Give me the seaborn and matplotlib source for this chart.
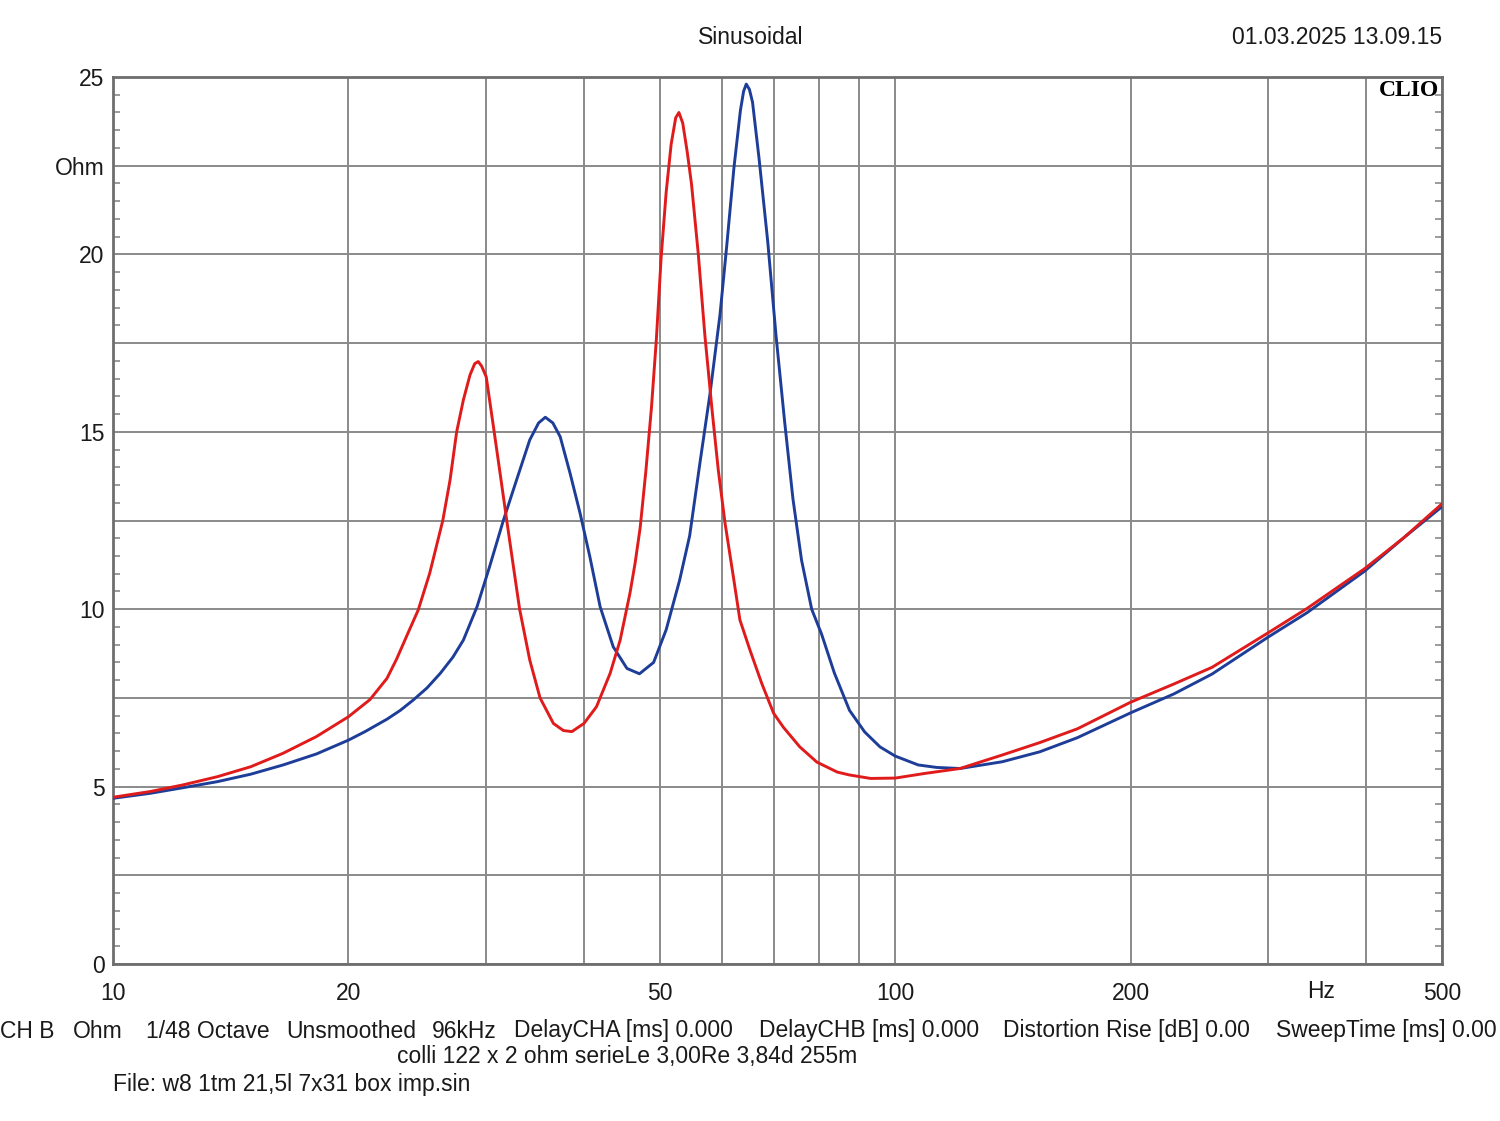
import numpy as np
import pandas as pd
import matplotlib
matplotlib.use("Agg")
import matplotlib.pyplot as plt
import matplotlib.transforms as mtransforms
from matplotlib.ticker import FixedLocator, NullFormatter
import seaborn as sns

# ---- data ----
red_f = [10, 11.15, 12.3, 13.6, 15.0, 16.5, 18.2, 20, 21.3, 22.4, 23.05, 23.8, 24.56, 25.4, 26.4, 26.97,
         27.5, 28.05, 28.6, 29.0, 29.3, 29.6, 30.0, 30.6, 31.25, 31.87, 32.5, 33.1, 34.1, 35.15,
         36.56, 37.65, 38.6, 40.0, 41.5, 43.2, 44.5, 45.8, 46.5, 47.2, 48.0, 48.8, 49.5, 50.2,
         50.95, 51.7, 52.4, 52.9, 53.5, 54.2, 54.9, 56.0, 57.1, 58.3, 59.4, 60.6, 62.2, 63.3,
         65.2, 67.5, 69.9, 71.9, 75.5, 79.4, 84.3, 87.3, 93, 100, 109, 121, 137, 153, 171,
         200, 227, 254, 300, 336, 398, 446, 500]
red_v = [4.70, 4.86, 5.05, 5.28, 5.56, 5.94, 6.41, 6.97, 7.45, 8.05, 8.6, 9.3, 9.98, 11.01, 12.5, 13.64,
         15.0, 15.9, 16.6, 16.92, 16.98, 16.85, 16.55, 15.24, 13.83, 12.5, 11.2, 10.0, 8.57, 7.5,
         6.78, 6.58, 6.55, 6.78, 7.25, 8.19, 9.13, 10.45, 11.3, 12.3, 13.9, 15.7, 17.6, 19.9,
         21.75, 23.1, 23.85, 24.0, 23.7, 22.9, 21.98, 20.02, 17.72, 15.65, 13.92, 12.42, 10.81, 9.7,
         8.85, 7.91, 7.07, 6.68, 6.12, 5.69, 5.41, 5.33, 5.23, 5.24, 5.37, 5.51, 5.89, 6.24, 6.63,
         7.38, 7.89, 8.36, 9.34, 10.02, 11.14, 12.0, 12.97]

blue_f = [10, 11.15, 12.3, 13.6, 15.0, 16.5, 18.2, 20, 21.0, 22.4, 23.3, 24.2, 25.2, 26.2, 27.2,
          28.05, 29.2, 30.3, 31.55, 32.8, 34.1, 35.0, 35.7, 36.5, 37.3, 38.4, 39.55, 40.7, 41.95,
          43.6, 45.4, 47.1, 49.1, 50.95, 53.0, 54.6, 56.3, 58.0, 59.7, 60.9, 62.2, 63.4, 64.0,
          64.5, 65.1, 65.7, 67.0, 68.7, 70.4, 72.2, 74.0, 75.9, 78.2, 80.5, 83.6, 87.4, 91.4,
          95.6, 100, 107, 113, 121, 137, 153, 171, 200, 227, 254, 300, 336, 398, 446, 500]
blue_v = [4.67, 4.81, 4.97, 5.14, 5.35, 5.61, 5.92, 6.31, 6.55, 6.9, 7.15, 7.44, 7.78, 8.19, 8.65,
          9.13, 10.07, 11.2, 12.5, 13.64, 14.77, 15.25, 15.41, 15.25, 14.86, 13.83, 12.7, 11.48, 10.07,
          8.94, 8.33, 8.18, 8.5, 9.42, 10.81, 12.07, 14.15, 16.11, 18.3, 20.25, 22.44, 24.06, 24.6,
          24.8, 24.65, 24.29, 22.67, 20.37, 17.72, 15.3, 13.11, 11.38, 10.0, 9.3, 8.2, 7.15, 6.54,
          6.12, 5.86, 5.61, 5.54, 5.51, 5.70, 5.98, 6.38, 7.08, 7.61, 8.17, 9.22, 9.90, 11.07, 12.0,
          12.89]

x_tick_vals = [10, 20, 50, 100, 200, 500]
x_tick_labels = ["10", "20", "50", "100", "200", "500"]
x_minor_vals = [30, 40, 60, 70, 80, 90, 300, 400]
y_tick_vals = [0, 2.5, 5, 7.5, 10, 12.5, 15, 17.5, 20, 22.5, 25]
y_tick_labels = ["0", "", "5", "", "10", "", "15", "", "20", "Ohm", "25"]

title_text = "Sinusoidal"
date_text = "01.03.2025 13.09.15"
info_items = ["CH B", "Ohm", "1/48 Octave", "Unsmoothed", "96kHz", "DelayCHA [ms] 0.000",
              "DelayCHB [ms] 0.000", "Distortion Rise [dB] 0.00", "SweepTime [ms] 0.00"]
info_line2 = "colli 122 x 2 ohm serieLe 3,00Re 3,84d 255m"
info_line3 = "File: w8 1tm 21,5l 7x31 box imp.sin"

red_col = "#e01b1b"
blue_col = "#1d3d98"
grid_col = "#8a8a8a"
frame_col = "#6e6e6e"
txt_col = "#1a1a1a"
FS = 16.5

sns.set_style("white")
plt.rcParams['font.family'] = ['Liberation Sans', 'DejaVu Sans']

W, H = 1500, 1121
fig = plt.figure(figsize=(W / 100, H / 100), dpi=100)
ax = fig.add_axes([113 / W, 1 - 964 / H, (1442 - 113) / W, (964 - 77) / H])

df_r = pd.DataFrame({"f": red_f, "z": red_v})
df_b = pd.DataFrame({"f": blue_f, "z": blue_v})
sns.lineplot(data=df_b, x="f", y="z", ax=ax, color=blue_col, lw=2.1, sort=False,
             estimator=None, zorder=3)
sns.lineplot(data=df_r, x="f", y="z", ax=ax, color=red_col, lw=2.1, sort=False,
             estimator=None, zorder=4)

ax.set_xscale("log")
ax.set_xlim(10, 500)
ax.set_ylim(0, 25)
ax.set_xlabel("")
ax.set_ylabel("")

ax.xaxis.set_major_locator(FixedLocator(x_tick_vals))
ax.set_xticklabels(x_tick_labels)
ax.xaxis.set_minor_locator(FixedLocator(x_minor_vals))
ax.xaxis.set_minor_formatter(NullFormatter())
ax.set_yticks(y_tick_vals)
ax.set_yticklabels(y_tick_labels)
ax.yaxis.set_minor_locator(FixedLocator(np.arange(0, 25.01, 0.5)))

ax.grid(True, which="major", color=grid_col, lw=1.4)
ax.grid(True, which="minor", axis="x", color=grid_col, lw=1.4)
ax.set_axisbelow(True)

ax.tick_params(axis="x", which="both", length=0, pad=13, labelsize=FS, colors=txt_col)
ax.tick_params(axis="y", which="major", length=0, pad=6, labelsize=FS, colors=txt_col)
ax.tick_params(axis="y", which="minor", direction="in", length=5, width=1.2,
               color=grid_col, left=True, right=True)

for s in ax.spines.values():
    s.set_color(frame_col)
    s.set_linewidth(2.0)

# Hz unit label on the x axis
trans = mtransforms.blended_transform_factory(ax.transData, ax.transAxes)
ax.text(350, -0.031, "Hz", transform=trans, ha="center", va="center",
        fontsize=FS, color=txt_col)

# CLIO logo
ax.text(0.998, 0.997, "CLIO", transform=ax.transAxes, ha="right", va="top",
        fontsize=17, fontweight="bold", family=["Liberation Serif", "DejaVu Serif"],
        color="black")

# header texts
fig.text(751 / W, 1 - 38 / H, title_text, ha="center", va="center", fontsize=FS,
         color=txt_col)
fig.text(1442 / W, 1 - 38 / H, date_text, ha="right", va="center", fontsize=FS,
         color=txt_col)

# footer info line
info_x = [0, 73, 146, 286, 432, 514, 759, 1003, 1276]
for xx, tt in zip(info_x, info_items):
    fig.text(xx / W, 1 - 1031 / H, tt, ha="left", va="center", fontsize=FS,
             color=txt_col)
fig.text(627 / W, 1 - 1057 / H, info_line2, ha="center", va="center", fontsize=FS,
         color=txt_col)
fig.text(113 / W, 1 - 1084 / H, info_line3, ha="left", va="center", fontsize=FS,
         color=txt_col)

fig.savefig("out.png", dpi=100, facecolor="white")
